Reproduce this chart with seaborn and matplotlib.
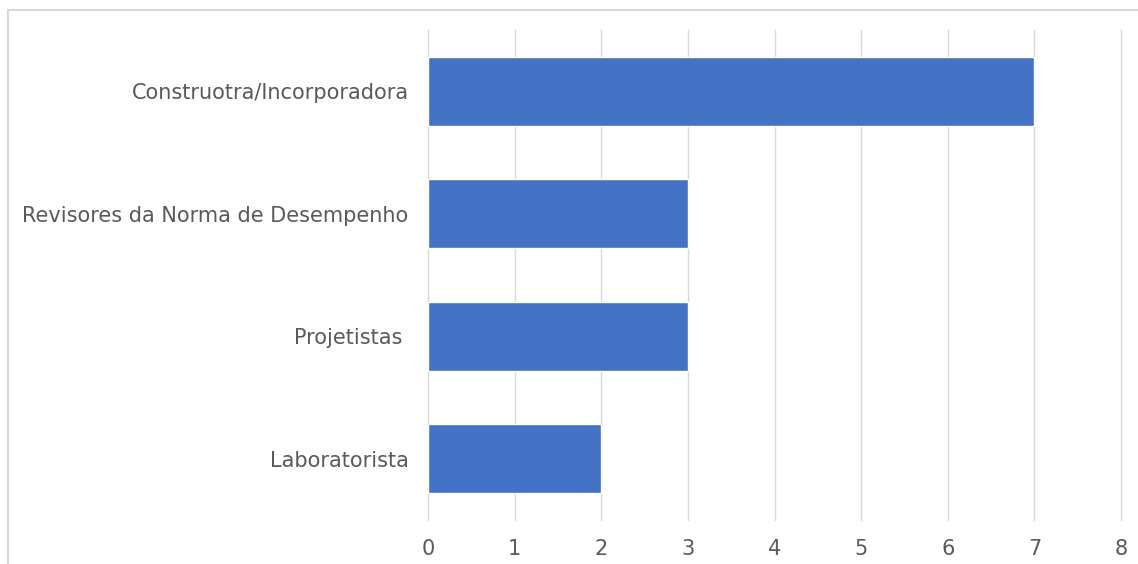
import matplotlib
matplotlib.use("Agg")
import matplotlib.pyplot as plt
import seaborn as sns
import pandas as pd
from matplotlib.patches import Rectangle

categories = ["Construotra/Incorporadora", "Revisores da Norma de Desempenho", "Projetistas ", "Laboratorista"]
values = [7, 3, 3, 2]
xticks = [0, 1, 2, 3, 4, 5, 6, 7, 8]

df = pd.DataFrame({"cat": categories, "val": values})

sns.set_theme(style="white")
plt.rcParams['font.family'] = ['DejaVu Sans']

fig = plt.figure(figsize=(11.38, 5.64), dpi=100)
ax = fig.add_axes([428/1138, 1-520/564, (1121-428)/1138, (520-30)/564])

sns.barplot(data=df, x="val", y="cat", orient="h", color="#4472C4", saturation=1,
            width=0.56, ax=ax, zorder=3)

ax.set_xlim(0, 8)
ax.set_xticks(xticks)
ax.set_xticklabels([str(t) for t in xticks])
ax.grid(axis="x", color="#d9d9d9", linewidth=1.0, zorder=0)
ax.grid(axis="y", visible=False)
for gl in ax.get_xgridlines():
    gl.set_clip_on(False)
for s in ax.spines.values():
    s.set_visible(False)
ax.set_xlabel("")
ax.set_ylabel("")
ax.tick_params(axis="x", length=0, pad=14, labelsize=15, labelcolor="#595959")
ax.tick_params(axis="y", length=0, pad=14, labelsize=15, labelcolor="#595959")

border = Rectangle((8/1138, -0.05), 1.1, 1-10/564+0.05, transform=fig.transFigure,
                   fill=False, edgecolor="#d9d9d9", linewidth=1.5, clip_on=False)
fig.patches.append(border)

fig.savefig("out.png", dpi=100, facecolor="white")
